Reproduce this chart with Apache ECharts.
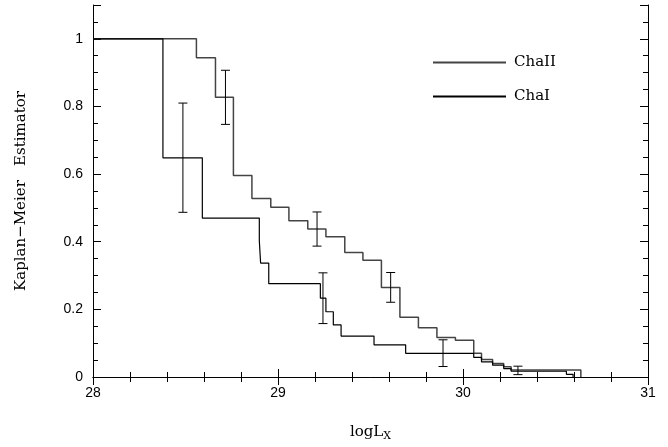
<!DOCTYPE html>
<html>
<head>
<meta charset="utf-8">
<script src="https://cdn.jsdelivr.net/npm/echarts@6/dist/echarts.min.js"></script>
<style>
  html, body { margin: 0; padding: 0; background: #fff; }
  #chart { width: 668px; height: 447px; }
</style>
</head>
<body>
<div id="chart"></div>
<script>
// Kaplan-Meier steps: at each logLx the estimator drops to the given value
const chaIIx = [28, 28.559, 28.662, 28.759, 28.859, 28.961, 29.059, 29.161, 29.259, 29.361, 29.459, 29.559, 29.659, 29.759, 29.859, 29.959, 30.058, 30.10, 30.16, 30.22, 30.26, 30.637];
const chaIIy = [1, 0.944, 0.827, 0.596, 0.528, 0.502, 0.462, 0.438, 0.415, 0.368, 0.345, 0.265, 0.177, 0.146, 0.117, 0.109, 0.070, 0.052, 0.040, 0.030, 0.021, 0];
const chaIx = [28, 28.378, 28.591, 28.899, 28.906, 28.95, 29.229, 29.259, 29.299, 29.341, 29.519, 29.69, 30.058, 30.10, 30.16, 30.22, 30.26, 30.559, 30.595];
const chaIy = [1, 0.648, 0.470, 0.403, 0.337, 0.276, 0.233, 0.193, 0.154, 0.121, 0.095, 0.070, 0.058, 0.045, 0.035, 0.025, 0.017, 0.008, 0];

// error bars
const errX = [28.486, 28.716, 29.211, 29.243, 29.609, 29.892, 30.297];
const errLow = [0.487, 0.747, 0.387, 0.158, 0.221, 0.031, 0.007];
const errHigh = [0.810, 0.907, 0.488, 0.308, 0.309, 0.110, 0.032];

const xTicks = [28, 29, 30, 31];
const yTicks = [0, 0.2, 0.4, 0.6, 0.8, 1];

const zip = (xs, ys) => xs.map((x, i) => [x, ys[i]]);

const chart = echarts.init(document.getElementById("chart"));

const labelFont = { fontFamily: "Liberation Sans", fontSize: 14, color: "#000" };
const serif = "DejaVu Serif";

function xAxisOf(pos, showLabel) {
  return {
    type: "value",
    position: pos,
    min: xTicks[0],
    max: xTicks[xTicks.length - 1],
    interval: 1,
    axisLine: { show: true, lineStyle: { color: "#000", width: 1 } },
    axisTick: { show: true, inside: true, length: 8, lineStyle: { color: "#000" } },
    minorTick: { show: true, splitNumber: 5, length: 5, lineStyle: { color: "#000" } },
    splitLine: { show: false },
    axisLabel: Object.assign({ show: showLabel, margin: 9 }, labelFont),
    name: showLabel ? "logL{s|X}" : "",
    nameLocation: "middle",
    nameGap: 46,
    nameTextStyle: {
      fontFamily: serif, fontSize: 15, color: "#000",
      rich: { s: { fontFamily: serif, fontSize: 11, padding: [8, 0, 0, 0] } }
    }
  };
}

function yAxisOf(pos, step, len, showLabel, showLine) {
  return {
    type: "value",
    position: pos,
    min: 0,
    max: 1.1,
    interval: step,
    axisLine: { show: showLine, onZero: false, lineStyle: { color: "#000", width: 1 } },
    axisTick: { show: true, inside: true, length: len, lineStyle: { color: "#000" } },
    splitLine: { show: false },
    axisLabel: Object.assign({
      show: showLabel,
      margin: 10,
      formatter: (v) => (yTicks.some((t) => Math.abs(t - v) < 1e-6) ? String(+v.toFixed(1)) : "")
    }, labelFont),
    name: showLabel ? "Kaplan\u2212Meier   Estimator" : "",
    nameLocation: "middle",
    nameGap: 64,
    nameTextStyle: { fontFamily: serif, fontSize: 15, color: "#000" }
  };
}

const option = {
  animation: false,
  backgroundColor: "#fff",
  grid: { left: 93, right: 20, top: 5, bottom: 64 },
  legend: {
    data: ["ChaII", "ChaI"],
    orient: "vertical",
    left: 427,
    top: 50,
    itemWidth: 73,
    itemHeight: 14,
    itemGap: 19,
    itemStyle: { opacity: 0 },
    textStyle: { fontFamily: serif, fontSize: 15, color: "#000", padding: [0, 0, 0, 3] }
  },
  xAxis: [xAxisOf("bottom", true), xAxisOf("top", false)],
  yAxis: [
    yAxisOf("left", 0.2, 8, true, true),
    yAxisOf("left", 0.05, 5, false, false),
    yAxisOf("right", 0.2, 8, false, true),
    yAxisOf("right", 0.05, 5, false, false)
  ],
  series: [
    {
      name: "ChaII",
      type: "line",
      step: "end",
      symbol: "none",
      data: zip(chaIIx, chaIIy),
      lineStyle: { color: "#444", width: 1.5 },
      itemStyle: { color: "#444" }
    },
    {
      name: "ChaI",
      type: "line",
      step: "end",
      symbol: "none",
      data: zip(chaIx, chaIy),
      lineStyle: { color: "#000", width: 1.2 },
      itemStyle: { color: "#000" }
    },
    {
      name: "err",
      type: "custom",
      data: errX.map((x, i) => [x, errLow[i], errHigh[i]]),
      renderItem: (params, api) => {
        const lo = api.coord([api.value(0), api.value(1)]);
        const hi = api.coord([api.value(0), api.value(2)]);
        const hw = 4.5;
        const style = { stroke: "#000", lineWidth: 1 };
        return {
          type: "group",
          children: [
            { type: "line", shape: { x1: lo[0], y1: lo[1], x2: hi[0], y2: hi[1] }, style },
            { type: "line", shape: { x1: lo[0] - hw, y1: lo[1], x2: lo[0] + hw, y2: lo[1] }, style },
            { type: "line", shape: { x1: hi[0] - hw, y1: hi[1], x2: hi[0] + hw, y2: hi[1] }, style }
          ]
        };
      },
      z: 5
    }
  ]
};

chart.setOption(option);
</script>
</body>
</html>
